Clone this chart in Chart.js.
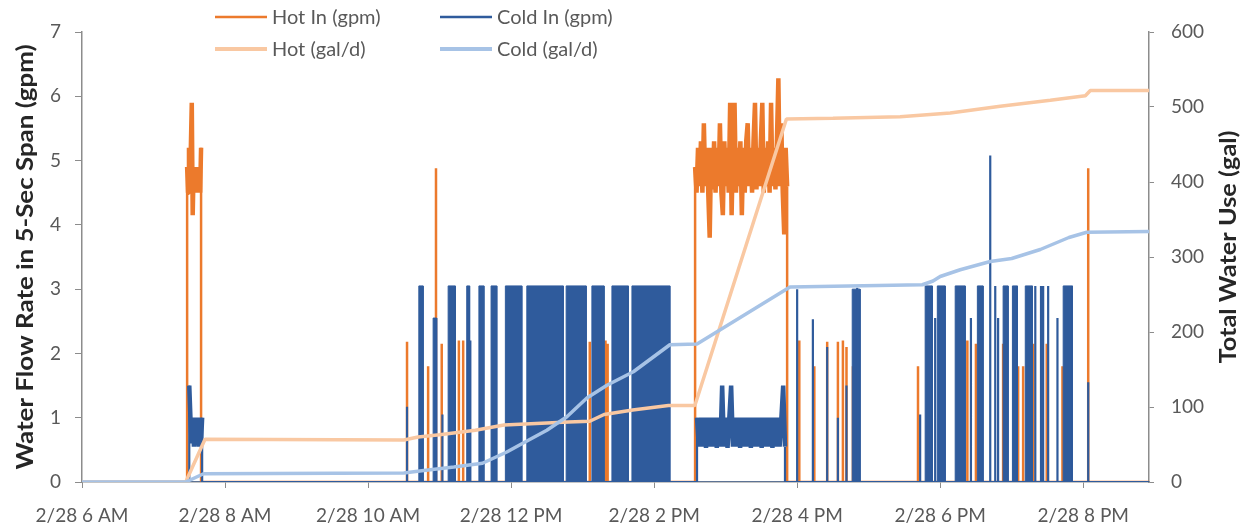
<!DOCTYPE html>
<html>
<head>
<meta charset="utf-8">
<title>Water Flow - 2/28</title>
<script src="https://cdn.jsdelivr.net/npm/chart.js@4.4.1/dist/chart.umd.min.js"></script>
<style>
    html, body { margin: 0; padding: 0; background: #fff; }
    #wrap { width: 1250px; height: 529px; position: relative; }
</style>
</head>
<body>
<div id="wrap"><canvas id="flowChart"></canvas></div>
<script>
    // Time axis, in hours of 2/28
    const dayStart = 6;
    const dayEnd = 20.92;
    const timeTicks = [6, 8, 10, 12, 14, 16, 18, 20];
    const flowTicks = [0, 1, 2, 3, 4, 5, 6, 7];
    const totalTicks = [0, 100, 200, 300, 400, 500, 600];

    // Hot water: single draws [hour, gpm]
    const hotSpikes = [
        [10.545, 2.18], [10.84, 1.8], [10.95, 4.88], [11.03, 2.15], [11.27, 2.2], [11.33, 2.2],
        [11.40, 2.15], [13.10, 2.18], [13.32, 2.2], [13.35, 2.15],
        [16.03, 2.2], [16.24, 1.8], [16.42, 2.18], [16.57, 2.18], [16.64, 2.2], [16.69, 2.1],
        [16.78, 1.8], [16.85, 2.2], [17.69, 1.8], [18.38, 2.2], [18.50, 2.15], [18.88, 2.15],
        [19.09, 1.8], [19.16, 1.8], [19.30, 2.15], [19.42, 2.15], [19.49, 2.15], [19.71, 1.8],
        [20.07, 4.88]
    ];
    // Hot water: continuous runs (readings spread evenly from start to end)
    const hotRuns = [
        { start: 7.47, end: 7.665, values: [4.9, 4.5, 5.2, 4.55, 5.2, 5.9, 4.15, 4.9, 4.55, 4.9, 4.5, 4.9, 4.55, 4.9, 4.5, 5.2] },
        { start: 14.573, end: 15.86, values: [
            4.9, 4.5, 5.2, 4.6, 5.3, 4.5, 5.58, 4.6, 5.2, 4.5, 3.8, 5.2, 4.55, 5.3, 4.5, 5.2,
            4.6, 5.58, 4.5, 4.15, 5.3, 4.6, 5.2, 4.5, 5.9, 4.15, 5.3, 5.9, 4.5, 5.2, 4.6, 5.3,
            4.15, 5.2, 4.5, 5.3, 5.58, 4.6, 5.2, 4.5, 5.3, 5.9, 4.55, 5.2, 4.6, 5.3, 5.9, 4.5,
            5.2, 4.6, 5.3, 4.5, 5.9, 4.6, 5.2, 4.55, 5.3, 6.28, 4.6, 5.58, 4.5, 3.85, 5.2, 4.6
        ] }
    ];

    // Cold water: single draws [hour, gpm]
    const coldSpikes = [
        [10.545, 1.17], [11.04, 1.05], [11.43, 2.2], [16.0, 3.0], [16.22, 2.53], [16.42, 2.1],
        [16.57, 1.0], [16.69, 1.5], [16.84, 3.02], [17.72, 1.05], [17.93, 2.55], [18.43, 2.55],
        [18.70, 5.08], [18.77, 3.05], [18.81, 2.55], [19.33, 3.05], [19.41, 3.05], [19.44, 3.05],
        [19.51, 3.05], [19.64, 2.55], [20.07, 1.55]
    ];
    // Cold water: continuous runs (readings spread evenly from start to end)
    const coldRuns = [
        { start: 7.50, end: 7.68, values: [1.5, 1.0, 0.6, 1.0, 0.55, 1.0, 0.6, 1.0, 0.55, 1.0, 0.6, 1.0] },
        { start: 14.60, end: 15.83, values: [
            1.0, 0.55, 1.0, 0.55, 1.0, 0.53, 1.0, 0.55, 1.0, 0.55, 1.0, 0.53, 1.0, 0.55, 1.5, 0.55,
            1.0, 0.53, 1.0, 1.5, 0.55, 1.0, 0.55, 1.0, 0.53, 1.0, 0.55, 1.0, 0.55, 1.0, 0.53, 1.0,
            0.55, 1.0, 0.55, 1.0, 0.53, 1.0, 0.55, 1.0, 0.55, 1.0, 0.53, 1.0, 0.55, 1.0, 0.55, 1.0,
            1.5, 0.55
        ] }
    ];
    // Cold water: sustained flow periods [from, to, gpm]
    const coldBlocks = [
        [10.71, 10.77, 3.05], [10.91, 10.96, 2.55], [11.12, 11.22, 3.05], [11.38, 11.42, 3.05],
        [11.55, 11.62, 3.05], [11.72, 11.80, 3.05], [11.92, 12.15, 3.05], [12.22, 12.73, 3.05],
        [12.77, 13.05, 3.05], [13.13, 13.30, 3.05], [13.41, 13.64, 3.05], [13.69, 14.22, 3.05],
        [16.77, 16.88, 3.0], [17.79, 17.89, 3.05], [17.96, 18.07, 3.05], [18.21, 18.35, 3.05],
        [18.52, 18.60, 3.05], [18.88, 18.95, 3.05], [19.01, 19.08, 3.05], [19.19, 19.29, 3.05],
        [19.72, 19.85, 3.05]
    ];

    // Running totals [hour, gal]
    const hotTotal = [
        [6, 0], [7.45, 0], [7.72, 57], [10.5, 56], [10.7, 60], [11.0, 63], [11.5, 69], [11.9, 76],
        [12.8, 80], [13.1, 81], [13.3, 90], [13.7, 96], [14.2, 102], [14.57, 102], [15.85, 484],
        [16.5, 485], [17.44, 487], [18.14, 492], [18.84, 501], [19.54, 509], [20.03, 515],
        [20.1, 522], [20.92, 522]
    ];
    const coldTotal = [
        [6, 0], [7.45, 0], [7.70, 11], [10.5, 12], [10.75, 15], [11.2, 20], [11.6, 25], [11.94, 40],
        [12.17, 52], [12.5, 69], [12.78, 87], [13.06, 112], [13.34, 129], [13.71, 147], [14.22, 183],
        [14.60, 184], [15.9, 260], [17.75, 263], [17.9, 268], [18.0, 274], [18.28, 283], [18.7, 294],
        [19.0, 298], [19.4, 310], [19.8, 326], [20.05, 333], [20.92, 334]
    ];

    const colors = {
        hotIn: '#EC7A2C',
        coldIn: '#2F5B9C',
        hotTotal: '#F9C8A2',
        coldTotal: '#A7C3E6',
        axis: '#8C8C8C',
        text: '#595959',
        title: '#262626'
    };
    const fontFamily = 'Lato, "Liberation Sans", sans-serif';

    // Flow trace: baseline at 0 with each draw rising from it
    function buildFlow(spikes, runs) {
        const events = [];
        spikes.forEach(([t, v]) => events.push({ t, pts: [[t, 0], [t, v], [t, 0]] }));
        runs.forEach(run => {
            const n = run.values.length;
            const pts = [[run.start, 0]];
            run.values.forEach((v, i) => pts.push([run.start + (run.end - run.start) * i / (n - 1), v]));
            pts.push([run.end, 0]);
            events.push({ t: run.start, pts });
        });
        events.sort((a, b) => a.t - b.t);
        const out = [{ x: dayStart, y: 0 }];
        events.forEach(e => e.pts.forEach(([x, y]) => out.push({ x, y })));
        out.push({ x: dayEnd, y: 0 });
        return out;
    }

    function buildBlocks(blocks) {
        const out = [{ x: dayStart, y: 0 }];
        blocks.forEach(([a, b, v]) => {
            out.push({ x: a, y: 0 }, { x: a, y: v }, { x: b, y: v }, { x: b, y: 0 });
        });
        out.push({ x: dayEnd, y: 0 });
        return out;
    }

    // segments between two non-zero readings belong to a run: draw them heavier
    const runWidth = (base, heavy) => c =>
        (c.p0.parsed.y > 0 && c.p1.parsed.y > 0) ? heavy : base;

    const toXY = rows => rows.map(([x, y]) => ({ x, y }));

    function timeLabel(h) {
        const suffix = h < 12 ? 'AM' : 'PM';
        const hr = h % 12 === 0 ? 12 : h % 12;
        return '2/28 ' + hr + ' ' + suffix;
    }

    const legendItems = [
        { text: 'Hot In (gpm)', color: colors.hotIn, width: 2.5, x: 215, y: 17 },
        { text: 'Cold In (gpm)', color: colors.coldIn, width: 2.5, x: 440, y: 17 },
        { text: 'Hot (gal/d)', color: colors.hotTotal, width: 4, x: 215, y: 49 },
        { text: 'Cold (gal/d)', color: colors.coldTotal, width: 4, x: 440, y: 49 }
    ];

    // rotated bold title squeezed/stretched to a set length
    function drawAxisTitle(ctx, text, cx, cy, length) {
        ctx.save();
        ctx.translate(cx, cy);
        ctx.rotate(-Math.PI / 2);
        const w = ctx.measureText(text).width;
        ctx.scale(length / w, 1);
        ctx.fillText(text, 0, 0);
        ctx.restore();
    }

    // Axis titles and two-column legend
    const decorations = {
        id: 'decorations',
        afterDraw(chart) {
            const ctx = chart.ctx;
            const area = chart.chartArea;
            const midY = (area.top + area.bottom) / 2;
            ctx.save();
            ctx.fillStyle = colors.title;
            ctx.font = 'bold 23px ' + fontFamily;
            ctx.textAlign = 'center';
            ctx.textBaseline = 'middle';
            drawAxisTitle(ctx, 'Water Flow Rate in 5-Sec Span (gpm)', 26, midY, 425);
            drawAxisTitle(ctx, 'Total Water Use (gal)', 1229, 247, 233);

            ctx.font = '20px ' + fontFamily;
            ctx.textAlign = 'left';
            legendItems.forEach(item => {
                ctx.strokeStyle = item.color;
                ctx.lineWidth = item.width;
                ctx.beginPath();
                ctx.moveTo(item.x, item.y);
                ctx.lineTo(item.x + 52, item.y);
                ctx.stroke();
                ctx.fillStyle = colors.text;
                ctx.fillText(item.text, item.x + 57, item.y + 1);
            });
            ctx.restore();
        }
    };

    const ctx = document.getElementById('flowChart').getContext('2d');
    const flowChart = new Chart(ctx, {
        type: 'line',
        data: {
            datasets: [{
                label: 'Cold (gal/d)',
                data: toXY(coldTotal),
                borderColor: colors.coldTotal,
                borderWidth: 3.5,
                yAxisID: 'y1',
                order: 0
            }, {
                label: 'Hot (gal/d)',
                data: toXY(hotTotal),
                borderColor: colors.hotTotal,
                borderWidth: 3.5,
                yAxisID: 'y1',
                order: 1
            }, {
                label: 'Cold In (gpm)',
                data: buildFlow(coldSpikes, coldRuns),
                borderColor: colors.coldIn,
                borderWidth: 2.2,
                segment: { borderWidth: runWidth(2.2, 4.5) },
                yAxisID: 'y',
                order: 2
            }, {
                label: 'Cold In (gpm) sustained',
                data: buildBlocks(coldBlocks),
                borderColor: colors.coldIn,
                backgroundColor: colors.coldIn,
                borderWidth: 1,
                fill: 'origin',
                yAxisID: 'y',
                order: 3
            }, {
                label: 'Hot In (gpm)',
                data: buildFlow(hotSpikes, hotRuns),
                borderColor: colors.hotIn,
                borderWidth: 2.5,
                segment: { borderWidth: runWidth(2.5, 4.5) },
                yAxisID: 'y',
                order: 4
            }]
        },
        options: {
            responsive: true,
            maintainAspectRatio: false,
            animation: false,
            layout: { padding: { top: 32, right: 0, bottom: 0, left: 0 } },
            elements: {
                point: { radius: 0, hoverRadius: 0 },
                line: { tension: 0, borderJoinStyle: 'bevel', capBezierPoints: false }
            },
            plugins: {
                legend: { display: false },
                tooltip: { enabled: false }
            },
            scales: {
                x: {
                    type: 'linear',
                    min: dayStart,
                    max: dayEnd,
                    afterBuildTicks: axis => { axis.ticks = timeTicks.map(v => ({ value: v })); },
                    afterFit: axis => { axis.height = 47; },
                    border: { color: colors.axis, width: 1.5 },
                    grid: { drawOnChartArea: false, drawTicks: true, tickLength: 6, color: colors.axis },
                    ticks: {
                        color: colors.text,
                        font: { family: fontFamily, size: 19 },
                        padding: 16,
                        maxRotation: 0,
                        callback: v => timeLabel(v)
                    }
                },
                y: {
                    type: 'linear',
                    position: 'left',
                    min: 0,
                    max: 7,
                    afterBuildTicks: axis => { axis.ticks = flowTicks.map(v => ({ value: v })); },
                    afterFit: axis => { axis.width = 82; },
                    border: { color: colors.axis, width: 1.5 },
                    grid: { drawOnChartArea: false, drawTicks: true, tickLength: 7, color: colors.axis },
                    ticks: { color: colors.text, font: { family: fontFamily, size: 19 }, padding: 14 }
                },
                y1: {
                    type: 'linear',
                    position: 'right',
                    min: 0,
                    max: 600,
                    afterBuildTicks: axis => { axis.ticks = totalTicks.map(v => ({ value: v })); },
                    afterFit: axis => { axis.width = 101; },
                    border: { color: colors.axis, width: 1.5 },
                    grid: { drawOnChartArea: false, drawTicks: true, tickLength: 5, color: colors.axis },
                    ticks: { color: colors.text, font: { family: fontFamily, size: 19 }, padding: 17 }
                }
            }
        },
        plugins: [decorations]
    });
</script>
</body>
</html>
